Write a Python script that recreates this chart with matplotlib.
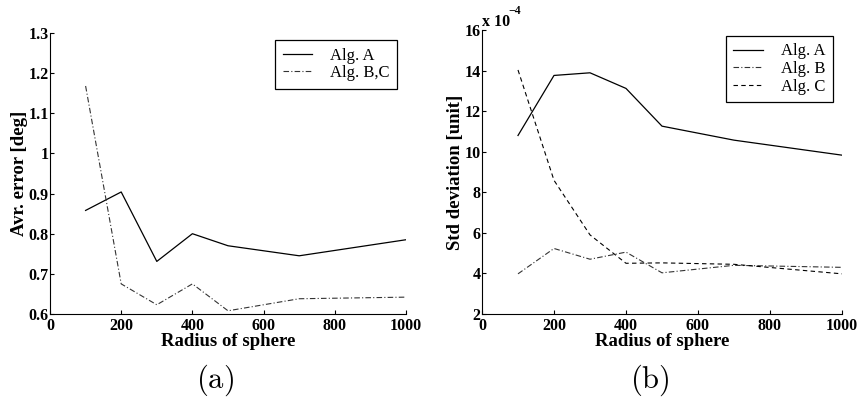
import matplotlib
matplotlib.use('Agg')
import matplotlib.pyplot as plt
from matplotlib.ticker import FormatStrFormatter

# radius values shared by all curves
radius = [100, 200, 300, 400, 500, 700, 1000]

# (a) average error in degrees
err_alg_a = [0.858, 0.904, 0.731, 0.800, 0.770, 0.745, 0.785]
err_alg_bc = [1.168, 0.675, 0.623, 0.675, 0.608, 0.638, 0.642]

# (b) std deviation, in units of 1e-4
std_alg_a = [10.8, 13.76, 13.89, 13.12, 11.26, 10.57, 9.83]
std_alg_b = [3.98, 5.23, 4.70, 5.05, 4.03, 4.40, 4.30]
std_alg_c = [14.03, 8.59, 5.90, 4.50, 4.52, 4.45, 3.98]

x_ticks = [0, 200, 400, 600, 800, 1000]
err_ticks = [0.6, 0.7, 0.8, 0.9, 1.0, 1.1, 1.2, 1.3]
std_ticks = [2, 4, 6, 8, 10, 12, 14, 16]

plt.rcParams['font.family'] = ['Liberation Serif', 'DejaVu Serif']
plt.rcParams['mathtext.fontset'] = 'cm'

fig = plt.figure(figsize=(8.57, 4.0), dpi=100)
ax1 = fig.add_axes([50 / 857, 1 - 314 / 400, 356 / 857, 281 / 400])
ax2 = fig.add_axes([482 / 857, 1 - 314 / 400, 360 / 857, 284 / 400])


def style_axes(ax):
    ax.spines['top'].set_visible(False)
    ax.spines['right'].set_visible(False)
    for s in ('left', 'bottom'):
        ax.spines[s].set_linewidth(0.8)
    ax.tick_params(direction='in', length=3, width=0.8, labelsize=11.5)
    ax.tick_params(axis='y', pad=1)
    ax.tick_params(axis='x', pad=3)
    for lbl in ax.get_xticklabels() + ax.get_yticklabels():
        lbl.set_fontweight('bold')
    ax.set_xlim(0, 1000)
    ax.set_xticks(x_ticks)
    ax.set_xlabel('Radius of sphere', fontsize=13.5, fontweight='bold',
                  labelpad=-1)


def add_legend(ax, anchor):
    leg = ax.legend(loc='upper right', bbox_to_anchor=anchor,
                    borderaxespad=0, fontsize=12, handlelength=1.75,
                    handletextpad=1.1, borderpad=0.45, labelspacing=0.1,
                    fancybox=False, framealpha=1, edgecolor='black')
    leg.get_frame().set_linewidth(0.9)
    return leg


# (a)
ax1.plot(radius, err_alg_a, color='black', lw=0.9, label='Alg. A')
ax1.plot(radius, err_alg_bc, color='#333333', lw=0.8,
         dashes=(5, 2, 1, 2), label='Alg. B,C')
ax1.set_ylim(0.6, 1.3)
ax1.set_yticks(err_ticks)
ax1.yaxis.set_major_formatter(FormatStrFormatter('%g'))
ax1.set_ylabel('Avr. error [deg]', fontsize=13.5, fontweight='bold',
               labelpad=0)
style_axes(ax1)
add_legend(ax1, (0.975, 0.975))

# (b)
ax2.plot(radius, std_alg_a, color='black', lw=0.9, label='Alg. A')
ax2.plot(radius, std_alg_b, color='#333333', lw=0.8,
         dashes=(5, 2, 1, 2), label='Alg. B')
ax2.plot(radius, std_alg_c, color='black', lw=0.8,
         dashes=(4, 3), label='Alg. C')
ax2.set_ylim(2, 16)
ax2.set_yticks(std_ticks)
ax2.set_ylabel('Std deviation [unit]', fontsize=13.5, fontweight='bold',
               labelpad=0)
style_axes(ax2)
add_legend(ax2, (0.975, 0.979))

# exponent label above the y axis
ax2.text(0.0, 1.0, 'x 10', transform=ax2.transAxes, fontsize=11.5,
         fontweight='bold', ha='left', va='bottom')
ax2.text(0.073, 1.045, '\u22124', transform=ax2.transAxes, fontsize=8.5,
         fontweight='bold', ha='left', va='bottom')

# sub-figure captions
fig.text(215 / 857, 1 - 380 / 400, r'$\mathrm{(a)}$', fontsize=22,
         ha='center', va='center')
fig.text(650 / 857, 1 - 380 / 400, r'$\mathrm{(b)}$', fontsize=22,
         ha='center', va='center')

fig.savefig('out.png', dpi=100)
